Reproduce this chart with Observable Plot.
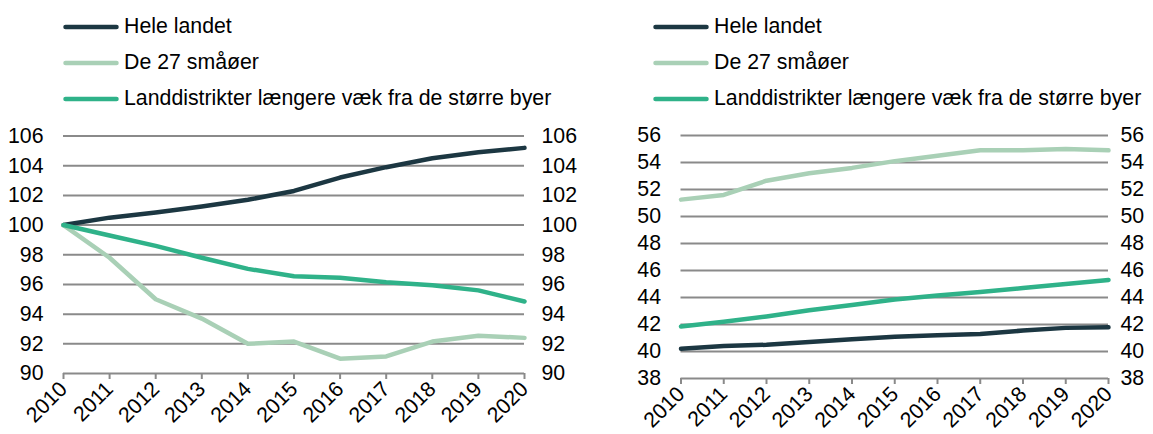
<!DOCTYPE html>
<html>
<head>
<meta charset="utf-8">
<script src="https://cdn.jsdelivr.net/npm/d3@7"></script>
<script src="https://cdn.jsdelivr.net/npm/@observablehq/plot@0.6"></script>
<style>
  html, body { margin: 0; padding: 0; background: #fff; }
  #root { position: relative; width: 1153px; height: 434px; font-family: "Liberation Sans", Arial, sans-serif; color: #000; }
  .panel { position: absolute; top: 120px; }
  .legend-row { position: absolute; display: flex; align-items: center; font-size: 21.3px; line-height: 1; white-space: nowrap; }
  .legend-row svg { display: block; margin-right: 5px; }
</style>
</head>
<body>
<div id="root"></div>
<script>
const years = [2010, 2011, 2012, 2013, 2014, 2015, 2016, 2017, 2018, 2019, 2020];
const seriesNames = ["Hele landet", "De 27 småøer", "Landdistrikter længere væk fra de større byer"];
const seriesColors = ["#1c3742", "#a9d0b6", "#2fb289"];

// Left panel: index (2010 = 100)
const leftHele = [100, 100.5, 100.85, 101.25, 101.7, 102.3, 103.2, 103.9, 104.5, 104.9, 105.2];
const leftSmaaoer = [100, 97.8, 95.0, 93.7, 92.0, 92.15, 91.0, 91.15, 92.15, 92.55, 92.4];
const leftLand = [100, 99.3, 98.6, 97.8, 97.05, 96.55, 96.45, 96.15, 95.95, 95.6, 94.85];
const leftTicks = [90, 92, 94, 96, 98, 100, 102, 104, 106];

// Right panel
const rightHele = [40.2, 40.4, 40.5, 40.7, 40.9, 41.1, 41.2, 41.3, 41.55, 41.75, 41.8];
const rightSmaaoer = [51.25, 51.6, 52.65, 53.2, 53.6, 54.1, 54.5, 54.9, 54.9, 55.0, 54.9];
const rightLand = [41.85, 42.2, 42.6, 43.05, 43.45, 43.85, 44.15, 44.4, 44.7, 45.0, 45.3];
const rightTicks = [38, 40, 42, 44, 46, 48, 50, 52, 54, 56];

function toLong(arrs) {
  const out = [];
  arrs.forEach((arr, i) => arr.forEach((v, j) => out.push({year: years[j], value: v, series: seriesNames[i]})));
  return out;
}

const font = "Liberation Sans, Arial, sans-serif";
const fs = 21.3;

function makePlot(data, ticks, opts) {
  return Plot.plot({
    width: opts.width,
    height: 314,
    marginTop: opts.marginTop,
    marginBottom: opts.marginBottom,
    marginLeft: opts.marginLeft,
    marginRight: opts.marginRight,
    style: {fontFamily: font, fontSize: fs + "px", color: "#000", background: "transparent", overflow: "visible"},
    x: {domain: [2010, 2020], type: "linear"},
    y: {domain: [ticks[0], ticks[ticks.length - 1]]},
    color: {domain: seriesNames, range: seriesColors},
    marks: [
      Plot.ruleY(ticks, {stroke: "#8a8a8a", strokeWidth: 2}),
      Plot.axisY(ticks, {anchor: "left", tickSize: 0, tickPadding: opts.padL, fontSize: fs, label: null, tickFormat: d => String(d)}),
      Plot.axisY(ticks, {anchor: "right", tickSize: 0, tickPadding: opts.padR, fontSize: fs, label: null, tickFormat: d => String(d)}),
      Plot.axisX(years, {anchor: "bottom", tickSize: 6, stroke: "#8a8a8a", strokeWidth: 2, tickRotate: -45, tickPadding: 6, fontSize: fs, label: null, tickFormat: d => String(d)}),
      Plot.line(data, {x: "year", y: "value", z: "series", stroke: "series", strokeWidth: 4.5, strokeLinejoin: "round", strokeLinecap: "round"})
    ]
  });
}

function makeLegend(root, left) {
  const rowsY = [27, 63, 99];
  seriesNames.forEach((name, i) => {
    const row = document.createElement("div");
    row.className = "legend-row";
    row.style.left = left + "px";
    row.style.top = (rowsY[i] - 11) + "px";
    row.style.height = "22px";
    const sw = d3.create("svg").attr("width", 56).attr("height", 8);
    sw.append("line").attr("x1", 2.5).attr("x2", 53.5).attr("y1", 4).attr("y2", 4)
      .attr("stroke", seriesColors[i]).attr("stroke-width", 4.5).attr("stroke-linecap", "round");
    row.appendChild(sw.node());
    const t = document.createElement("span");
    t.textContent = name;
    row.appendChild(t);
    root.appendChild(row);
  });
}

const root = document.getElementById("root");

const leftDiv = document.createElement("div");
leftDiv.className = "panel";
leftDiv.style.left = "0px";
leftDiv.appendChild(makePlot(toLong([leftHele, leftSmaaoer, leftLand]), leftTicks,
  {width: 580, marginTop: 15.5, marginBottom: 61, marginLeft: 63, marginRight: 56, padL: 20, padR: 17}));
root.appendChild(leftDiv);

const rightDiv = document.createElement("div");
rightDiv.className = "panel";
rightDiv.style.left = "600px";
rightDiv.appendChild(makePlot(toLong([rightHele, rightSmaaoer, rightLand]), rightTicks,
  {width: 553, marginTop: 15, marginBottom: 56, marginLeft: 80.5, marginRight: 45, padL: 20, padR: 12}));
root.appendChild(rightDiv);

makeLegend(root, 63);
makeLegend(root, 653);
</script>
</body>
</html>
